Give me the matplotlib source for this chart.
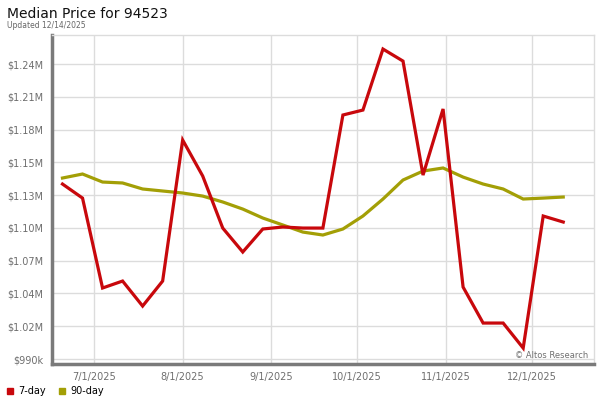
import numpy as np
import matplotlib
matplotlib.use('Agg')
import matplotlib.pyplot as plt
import matplotlib.dates as mdates
from matplotlib.lines import Line2D
import pandas as pd

# weekly median prices (thousands of $), Fridays 6/20/2025 .. 12/12/2025
dates = pd.date_range('2025-06-20', periods=26, freq='7D')
day7 = [1138.3, 1126.4, 1050.2, 1056.1, 1034.9, 1056.1, 1175.6, 1145.1, 1101.0, 1080.7,
        1100.2, 1101.9, 1101.0, 1101.0, 1196.8, 1201.0, 1252.7, 1242.5, 1145.9, 1201.9,
        1051.0, 1020.5, 1020.5, 999.3, 1111.2, 1106.1]
day90 = [1143.4, 1146.8, 1140.0, 1139.2, 1134.1, 1132.4, 1130.7, 1128.1, 1123.1, 1117.1,
         1109.5, 1103.6, 1097.6, 1095.1, 1100.2, 1111.2, 1125.6, 1141.7, 1149.3, 1151.9,
         1144.2, 1138.3, 1134.1, 1125.6, 1126.4, 1127.3]

ytick_vals = [990 + i * 250 / 9 for i in range(10)]
ytick_labels = ['$990k', '$1.02M', '$1.04M', '$1.07M', '$1.10M', '$1.13M',
                '$1.15M', '$1.18M', '$1.21M', '$1.24M']
xtick_dates = pd.to_datetime(['2025-07-01', '2025-08-01', '2025-09-01',
                              '2025-10-01', '2025-11-01', '2025-12-01'])
xtick_labels = ['7/1/2025', '8/1/2025', '9/1/2025', '10/1/2025', '11/1/2025', '12/1/2025']

red = '#c8080c'
olive = '#a39f06'

fig = plt.figure(figsize=(6, 4), dpi=100)
ax = fig.add_axes([52/600, 1 - 364/400, 542/600, 329/400])

ax.plot(dates, day90, color=olive, lw=2.3, solid_joinstyle='miter', zorder=3)
ax.plot(dates, day7, color=red, lw=2.3, solid_joinstyle='miter', zorder=4)

ax.set_ylim(985.8, 1264.6)
ax.set_xlim(pd.Timestamp('2025-06-16 08:00'), pd.Timestamp('2025-12-22 18:00'))
ax.set_yticks(ytick_vals)
ax.set_yticklabels(ytick_labels)
ax.set_xticks(xtick_dates)
ax.set_xticklabels(xtick_labels)
ax.tick_params(length=0, labelsize=7, colors='#6e6e6e', pad=6)
ax.grid(True, color='#dcdcdc', lw=1)
ax.set_axisbelow(True)

for s in ['top', 'right']:
    ax.spines[s].set_color('#dcdcdc')
    ax.spines[s].set_linewidth(1)
for s in ['left', 'bottom']:
    ax.spines[s].set_color('#7a7a7a')
    ax.spines[s].set_linewidth(2.5)

ax.text(0.99, 0.012, '\u00a9 Altos Research', transform=ax.transAxes, ha='right', va='bottom',
        fontsize=6, color='#707070')

fig.text(7/600, 1 - 18/400, 'Median Price for 94523', fontsize=10, color='#111111')
fig.text(7/600, 1 - 28/400, 'Updated 12/14/2025', fontsize=5.5, color='#666666')

handles = [Line2D([], [], ls='none', marker='s', ms=4.5, color=red, label='7-day'),
           Line2D([], [], ls='none', marker='s', ms=4.5, color=olive, label='90-day')]
fig.legend(handles=handles, loc='lower left', bbox_to_anchor=(-0.005, -0.012), ncol=2,
           frameon=False, fontsize=7, handlelength=0.8, handletextpad=0.5, columnspacing=1.2)

fig.savefig('out.png', dpi=100)
